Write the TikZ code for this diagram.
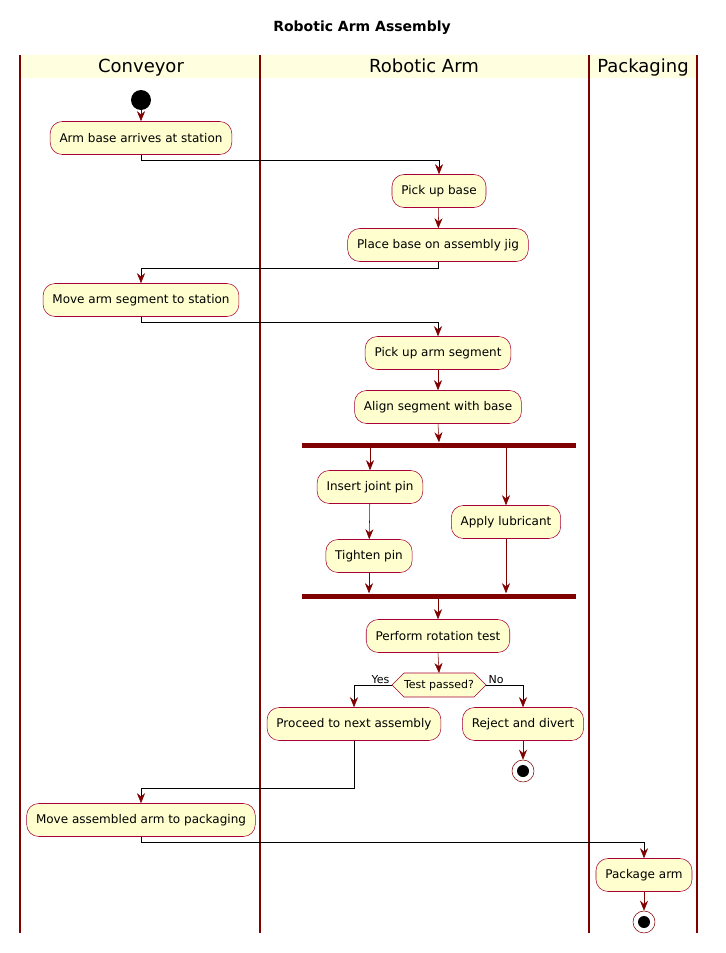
\documentclass[tikz,border=0pt]{standalone}
\usepackage{fontspec}
\setmainfont{DejaVu Sans}
\usetikzlibrary{arrows.meta}
\definecolor{lane}{HTML}{800000}
\definecolor{boxfill}{HTML}{FEFECE}
\definecolor{boxline}{HTML}{A80036}
\definecolor{head}{HTML}{FFFFE0}
\begin{document}
\begin{tikzpicture}[x=0.75pt,y=-0.75pt,
  act/.style={draw=boxline,fill=boxfill,rounded corners=9pt,minimum height=24.75pt,inner xsep=7pt,font=\fontsize{9}{11}\selectfont},
  bar/.style={fill=lane,draw=none,minimum width=205.5pt,minimum height=3.75pt,inner sep=0pt},
  arr/.style={draw=lane,-{Stealth[length=7.5pt,width=6pt]}},
  conn/.style={draw=black,-{Stealth[length=7.5pt,width=6pt,color=lane]}},
  lbl/.style={font=\fontsize{8.25}{10}\selectfont,inner sep=1pt},
  hdr/.style={font=\fontsize{13.5}{15}\selectfont,anchor=base},
  startn/.style={circle,fill=black,minimum size=15pt,inner sep=0pt},
  stopn/.style={circle,draw=lane,fill=white,minimum size=16.5pt,inner sep=0pt,path picture={\fill[black] (path picture bounding box.center) circle (4.5pt);}}]
\useasboundingbox (0,0) rectangle (725,953);
\fill[white] (0,0) rectangle (725,953);
\node[font=\bfseries\fontsize{10.5}{12}\selectfont] (title) at (362,28) {Robotic Arm Assembly};
\fill[head] (20,55) rectangle (697,78);
\foreach \x in {20,260,589,697} \draw[lane,line width=1pt] (\x,55) -- (\x,933);
\node[hdr] (h1) at (141,72) {Conveyor};
\node[hdr] (h2) at (424,72) {Robotic Arm};
\node[hdr] (h3) at (643,72) {Packaging};

\node[startn] (start) at (141,100) {};
\node[act] (a1) at (141,138) {Arm base arrives at station};
\node[act] (a2) at (439,191) {Pick up base};
\node[act] (a3) at (438,245) {Place base on assembly jig};
\node[act] (a4) at (141,300) {Move arm segment to station};
\node[act] (a5) at (438,353) {Pick up arm segment};
\node[act] (a6) at (438,407) {Align segment with base};
\node[bar] (f1) at (439,445) {};
\node[act] (a7) at (370,487) {Insert joint pin};
\node[act] (a8) at (369,556) {Tighten pin};
\node[act] (a9) at (506,522) {Apply lubricant};
\node[bar] (f2) at (439,596) {};
\node[act] (a10) at (438,636) {Perform rotation test};
\draw[draw=boxline,fill=boxfill] (392,685) -- (404,673) -- (474,673) -- (486,685) -- (474,697) -- (404,697) -- cycle;
\node[lbl] (dec) at (439,685) {Test passed?};
\coordinate (dl) at (392,685);
\coordinate (dr) at (486,685);
\node[act] (a11) at (354,724) {Proceed to next assembly};
\node[act] (a12) at (523,724) {Reject and divert};
\node[stopn] (stop1) at (523,771) {};
\node[act] (a13) at (141,820) {Move assembled arm to packaging};
\node[act] (a14) at (644,875) {Package arm};
\node[stopn] (stop2) at (644,922) {};

\draw[arr] (start) -- (a1);
\draw[conn] (a1.south) |- (439,160) -- (a2.north);
\draw[arr] (a2) -- (a3);
\draw[conn] (a3.south) |- (141,268) -- (a4.north);
\draw[conn] (a4.south) |- (438,322) -- (a5.north);
\draw[arr] (a5) -- (a6);
\draw[arr] (a6.south) -- (f1.north);
\draw[arr] (f1.south -| a7.north) -- (a7.north);
\draw[arr] (a7) -- (a8);
\draw[arr] (a8.south) -- (f2.north -| a8.south);
\draw[arr] (f1.south -| a9.north) -- (a9.north);
\draw[arr] (a9.south) -- (f2.north -| a9.south);
\draw[arr] (f2.south -| a10.north) -- (a10.north);
\draw[arr] (a10.south) -- (439,673);
\draw[conn] (dl) -| (a11.north);
\draw[conn] (dr) -| (a12.north);
\node[lbl,anchor=south east] (yes) at (391,685) {Yes};
\node[lbl,anchor=south west] (no) at (487,685) {No};
\draw[arr] (a12) -- (stop1);
\draw[conn] (a11.south) |- (141,788) -- (a13.north);
\draw[conn] (a13.south) |- (644,842) -- (a14.north);
\draw[arr] (a14) -- (stop2);
\end{tikzpicture}
\end{document}
